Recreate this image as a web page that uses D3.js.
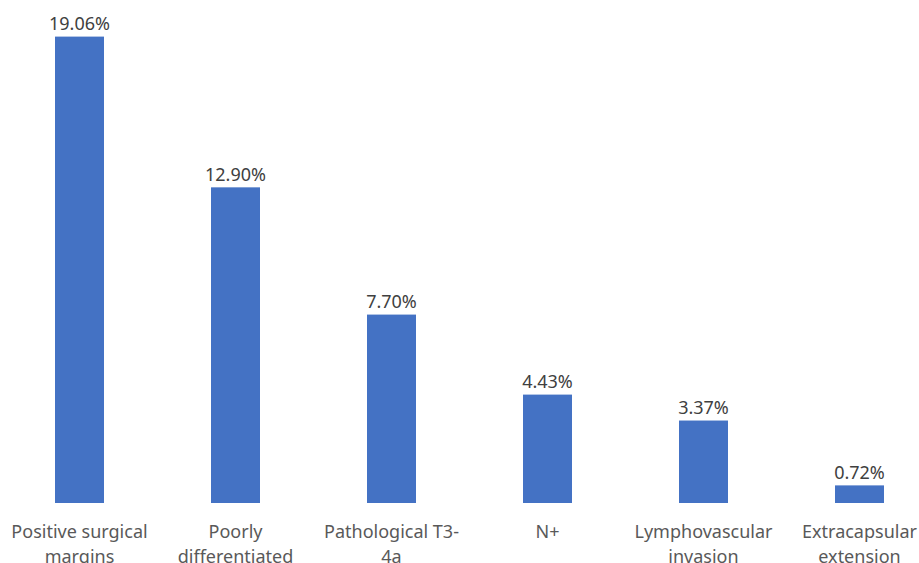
<!DOCTYPE html>
<html>
<head>
<meta charset="utf-8">
<script src="https://cdn.jsdelivr.net/npm/d3@7"></script>
<style>
  body { margin: 0; background: #fff; }
  svg text { font-family: "Noto Sans", "Open Sans", sans-serif; }
</style>
</head>
<body>
<svg id="chart"></svg>
<script>
// categories, split into the two lines they show on the axis
const categories = ["Positive surgical margins", "Poorly differentiated", "Pathological T3-4a",
                    "N+", "Lymphovascular invasion", "Extracapsular extension"];
const tickLines = [["Positive surgical", "margins"], ["Poorly", "differentiated"], ["Pathological T3-", "4a"],
                   ["N+"], ["Lymphovascular", "invasion"], ["Extracapsular", "extension"]];
const values = [19.06, 12.90, 7.70, 4.43, 3.37, 0.72];

const width = 919, height = 563;

const svg = d3.select("#chart")
    .attr("width", width)
    .attr("height", height);

// band scale runs a bit past the right edge, like the cropped original
const x = d3.scaleBand()
    .domain(categories)
    .range([1.5, 937.5])
    .paddingInner(0.686)
    .paddingOuter(0.343);

const y = d3.scaleLinear()
    .domain([0, 20])
    .range([503, 503 - 20 * 24.47]);

// BARS
svg.append("g")
  .selectAll("rect")
  .data(values)
  .join("rect")
    .attr("x", (d, i) => x(categories[i]))
    .attr("y", d => y(d))
    .attr("width", x.bandwidth())
    .attr("height", d => y(0) - y(d))
    .attr("fill", "#4472c4");

// VALUE LABELS
svg.append("g")
    .style("font-size", "18px")
    .attr("fill", "#404040")
    .attr("text-anchor", "middle")
  .selectAll("text")
  .data(values)
  .join("text")
    .attr("x", (d, i) => x(categories[i]) + x.bandwidth() / 2)
    .attr("y", d => y(d) - 6.5)
    .text(d => d.toFixed(2) + "%");

// CATEGORY LABELS (second line is cut by the bottom edge, as in the original)
const ticks = svg.append("g")
    .style("font-size", "18px")
    .attr("fill", "#595959")
    .attr("text-anchor", "middle")
  .selectAll("text")
  .data(categories)
  .join("text")
    .attr("x", d => x(d) + x.bandwidth() / 2)
    .attr("y", 538);

ticks.selectAll("tspan")
  .data((d, i) => tickLines[i])
  .join("tspan")
    .attr("x", function() { return this.parentNode.getAttribute("x"); })
    .attr("dy", (d, i) => i ? 25 : 0)
    .text(d => d);
</script>
</body>
</html>
